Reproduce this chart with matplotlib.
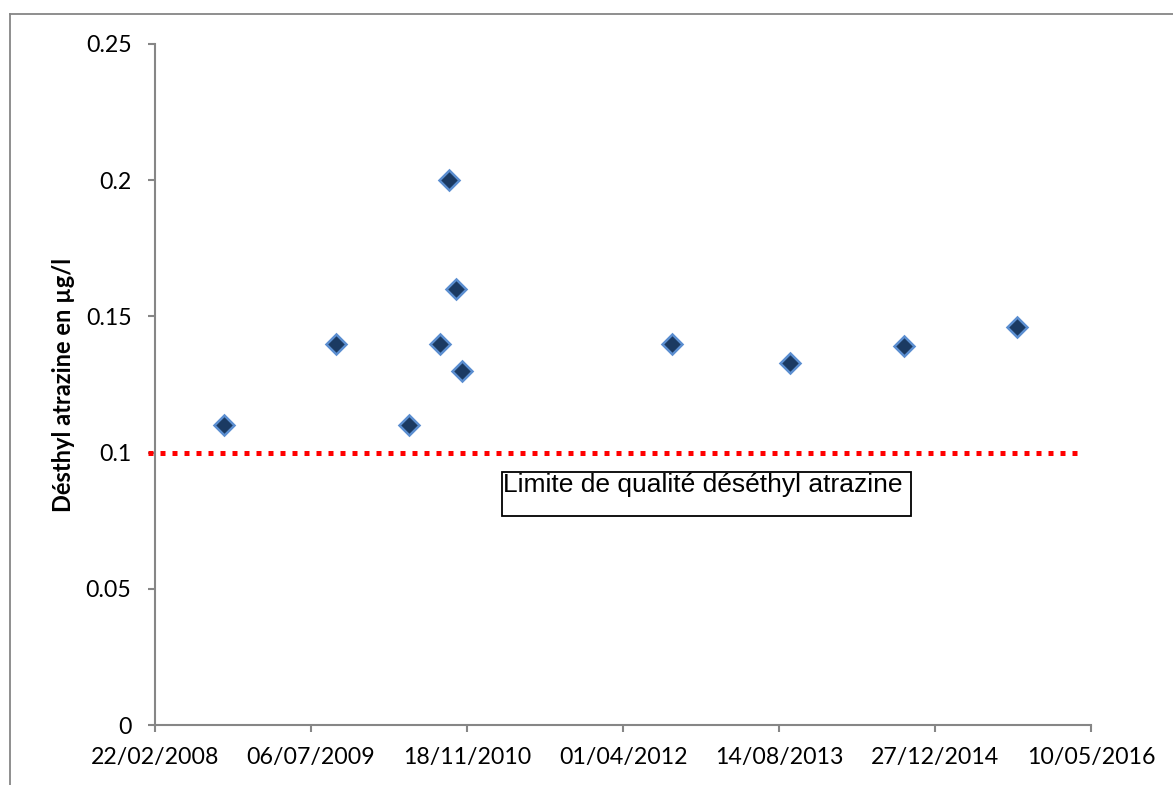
import matplotlib
matplotlib.use('Agg')

import matplotlib.pyplot as plt
import matplotlib.dates as mdates
from matplotlib.lines import Line2D
from matplotlib.patches import Rectangle
from matplotlib.ticker import FuncFormatter
import pandas as pd

# données de mesure (dates de prélèvement, µg/l)
sample_dates = ['2008-09-30', '2009-09-24', '2010-05-16', '2010-08-23',
                '2010-09-21', '2010-10-14', '2010-11-02', '2012-09-05',
                '2013-09-18', '2014-09-19', '2015-09-16']
sample_values = [0.11, 0.14, 0.11, 0.14, 0.2, 0.16, 0.13, 0.14, 0.133, 0.139, 0.146]

# limite de qualité
limit_dates = ['2008-01-31', '2016-04-05']
limit_values = [0.1, 0.1]

x_start = '2008-02-22'
x_end = '2016-05-10'
x_step_days = 500
y_ticks = [0, 0.05, 0.1, 0.15, 0.2, 0.25]

W, H = 1173, 785
fig = plt.figure(figsize=(W / 100, H / 100), dpi=100, facecolor='white')
ax = fig.add_axes([155 / W, 1 - 725 / H, (1091 - 155) / W, (725 - 44) / H])

gray = '#868686'
font = ['Lato', 'DejaVu Sans']

ld = pd.to_datetime(limit_dates)
ax.plot(ld, limit_values, color='#ff0000', linewidth=3.6,
        linestyle=(0, (1, 1.4)), dash_capstyle='butt', clip_on=False, zorder=2)

sd = pd.to_datetime(sample_dates)
ax.plot(sd, sample_values, linestyle='none', marker='D', markersize=10.5,
        markerfacecolor='#1b3a62', markeredgecolor='#5b8ed0',
        markeredgewidth=1.8, zorder=3)

x0 = pd.Timestamp(x_start)
x1 = pd.Timestamp(x_end)
ax.set_xlim(x0, x1)
ax.set_ylim(0, 0.25)
ax.set_xticks(pd.date_range(x0, x1, freq=f'{x_step_days}D'))
ax.xaxis.set_major_formatter(mdates.DateFormatter('%d/%m/%Y'))
ax.set_yticks(y_ticks)
ax.yaxis.set_major_formatter(FuncFormatter(lambda v, p: f'{v:g}'))

for side in ['top', 'right']:
    ax.spines[side].set_visible(False)
for side in ['left', 'bottom']:
    ax.spines[side].set_color(gray)
    ax.spines[side].set_linewidth(1.5)

ax.tick_params(axis='both', direction='out', length=5, width=1.5, color=gray,
               labelsize=16.7, labelcolor='black')
ax.tick_params(axis='y', pad=12)
ax.tick_params(axis='x', pad=11)
for lbl in ax.get_xticklabels() + ax.get_yticklabels():
    lbl.set_family(font)

ax.set_ylabel('Désthyl atrazine en µg/l', fontsize=17, fontweight='bold',
              family=font, labelpad=8)

# cadre de la légende "limite"
fig.add_artist(Rectangle((502 / W, 1 - 516 / H), (911 - 502) / W, 44 / H,
                         transform=fig.transFigure, facecolor='white',
                         edgecolor='black', linewidth=1.3, zorder=5))
fig.text(503 / W, 1 - 473 / H, 'Limite de qualité déséthyl atrazine',
         ha='left', va='top', fontsize=19, family='Liberation Sans',
         color='black', zorder=6)

# bordure extérieure du graphique
fig.add_artist(Line2D([10 / W, 1.0], [1 - 14 / H, 1 - 14 / H],
                      transform=fig.transFigure, color=gray, linewidth=1.3))
fig.add_artist(Line2D([10 / W, 10 / W], [1 - 14 / H, 0.0],
                      transform=fig.transFigure, color=gray, linewidth=1.3))

fig.savefig('out.png', dpi=100, facecolor='white')
